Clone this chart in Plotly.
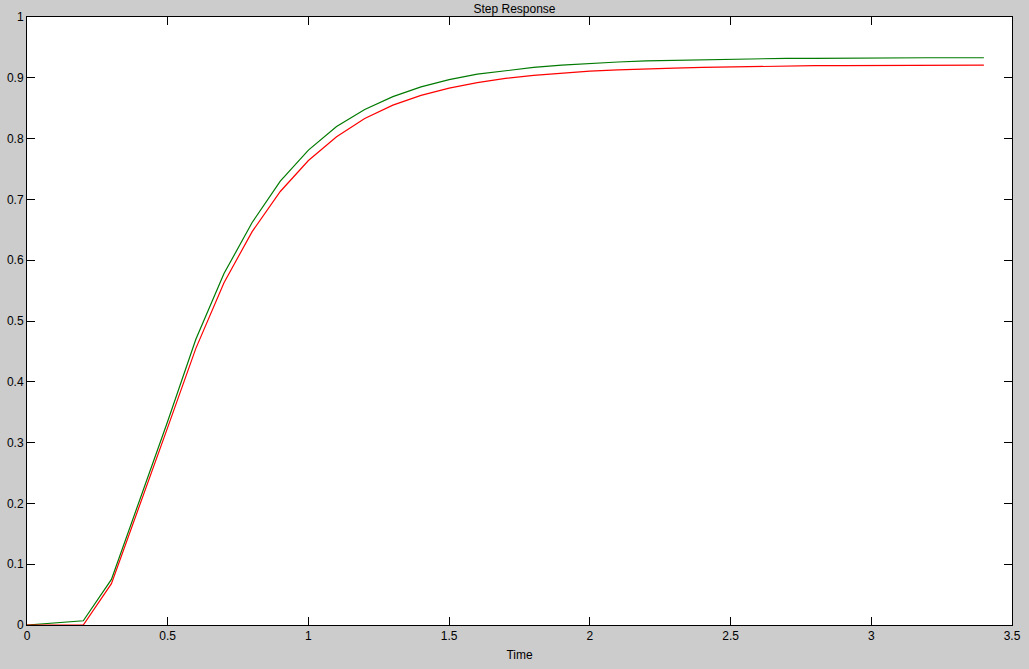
import plotly.graph_objects as go

time = [round(0.1 * i, 1) for i in range(35)]
green_resp = [0, 0.003, 0.007, 0.075, 0.205, 0.335, 0.470, 0.578, 0.662, 0.730, 0.781,
              0.820, 0.848, 0.869, 0.885, 0.897, 0.906, 0.912, 0.917, 0.921, 0.924,
              0.926, 0.928, 0.929, 0.930, 0.931, 0.9315, 0.932, 0.932, 0.9325, 0.9325,
              0.933, 0.933, 0.933, 0.933]
red_resp = [0, 0, 0, 0.068, 0.195, 0.325, 0.455, 0.563, 0.647, 0.713, 0.764,
            0.803, 0.833, 0.855, 0.871, 0.883, 0.892, 0.899, 0.904, 0.908, 0.911,
            0.913, 0.915, 0.916, 0.917, 0.918, 0.919, 0.919, 0.920, 0.920, 0.920,
            0.921, 0.921, 0.921, 0.921]
x_ticks = [0, 0.5, 1, 1.5, 2, 2.5, 3, 3.5]
x_labels = ["0", "0.5", "1", "1.5", "2", "2.5", "3", "3.5"]
y_ticks = [0, 0.1, 0.2, 0.3, 0.4, 0.5, 0.6, 0.7, 0.8, 0.9, 1]
y_labels = ["0", "0.1", "0.2", "0.3", "0.4", "0.5", "0.6", "0.7", "0.8", "0.9", "1"]

FONT = "Liberation Sans, Arial, sans-serif"

fig = go.Figure()
fig.add_trace(go.Scatter(x=time, y=green_resp, mode="lines",
                         line=dict(color="#007a00", width=1.2), showlegend=False))
fig.add_trace(go.Scatter(x=time, y=red_resp, mode="lines",
                         line=dict(color="#ff0000", width=1.2), showlegend=False))

axis_common = dict(showgrid=False, zeroline=False, showline=True, linecolor="black",
                   linewidth=1, mirror="ticks", ticks="inside", ticklen=8,
                   tickcolor="black", tickwidth=1,
                   tickfont=dict(family=FONT, size=12, color="black"))

fig.update_layout(
    width=1029, height=669,
    paper_bgcolor="#cccccc", plot_bgcolor="white",
    margin=dict(l=27, r=17, t=17, b=44),
    title=dict(text="Step Response", x=0.5, xanchor="center", y=1 - 8.5 / 669,
               yanchor="middle", font=dict(family=FONT, size=12, color="black")),
    xaxis=dict(range=[0, 3.5], tickvals=x_ticks, ticktext=x_labels,
               title=dict(text="Time", standoff=8,
                          font=dict(family=FONT, size=12, color="black")),
               automargin=False, **axis_common),
    yaxis=dict(range=[0, 1], tickvals=y_ticks, ticktext=y_labels, automargin=False,
               **axis_common),
)

fig.write_html("out.html", config={"displayModeBar": False},
               post_script="document.body.style.margin='0';document.body.style.background='#cccccc';")
